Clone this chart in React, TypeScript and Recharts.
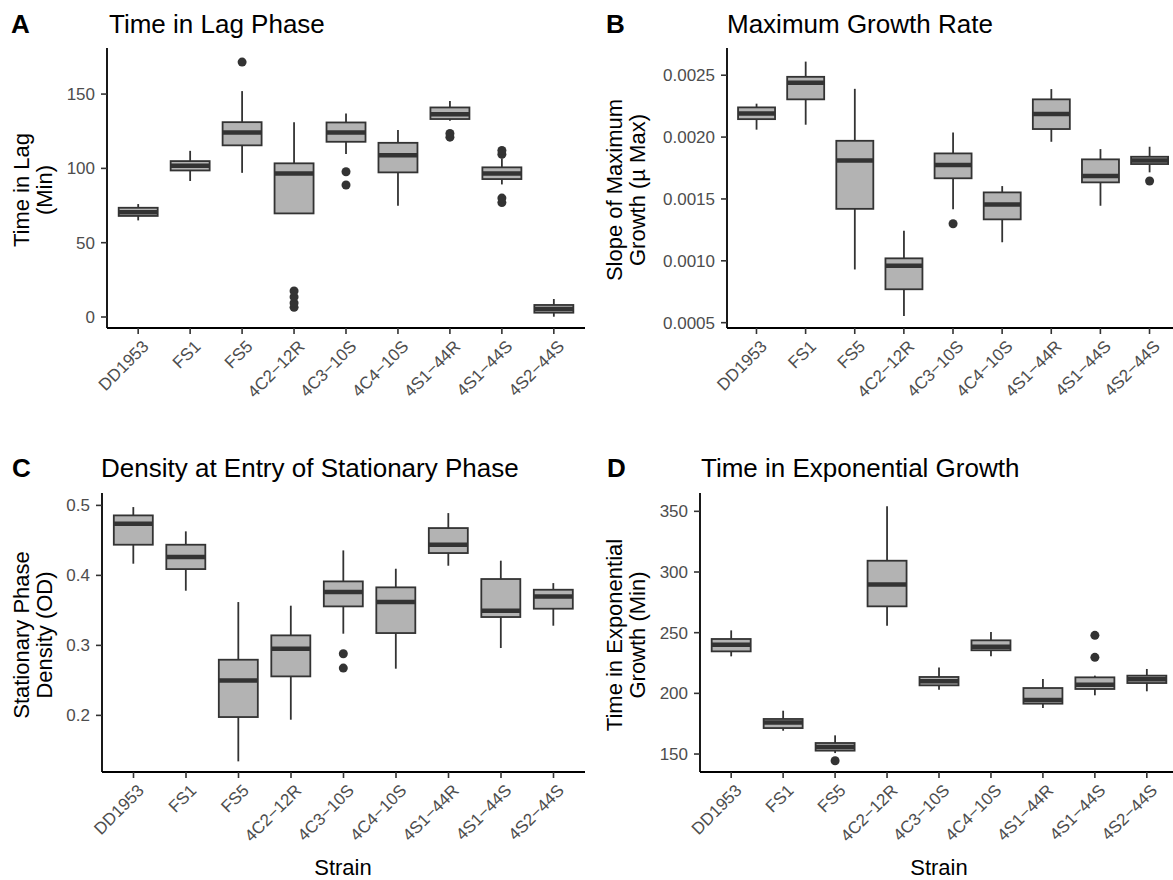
import React from 'react';
import { ComposedChart, Bar, XAxis, YAxis } from 'recharts';

const strains = ['DD1953', 'FS1', 'FS5', '4C2−12R', '4C3−10S', '4C4−10S', '4S1−44R', '4S1−44S', '4S2−44S'];

// [lower whisker, q1, median, q3, upper whisker]
const lagStats = [
  [65, 68, 70.5, 73.5, 76],
  [91.5, 98.6, 101.8, 104.9, 111.8],
  [97, 115.5, 124.2, 131.1, 152],
  [69.7, 69.7, 96.6, 103.4, 131],
  [109.6, 117.9, 124.2, 130.9, 137],
  [74.9, 97.3, 108.9, 117.2, 125.8],
  [132, 133.2, 136.5, 141, 145.3],
  [89.2, 92.8, 96.6, 100.7, 106.7],
  [0.2, 2.9, 5.4, 8.1, 12.1],
];
const lagOutliers = [[], [], [171.5], [6.5, 9.5, 13.5, 17.5], [97.7, 88.8], [], [121, 123.5], [109.5, 112, 77, 80], []];
const lagTicks = [0, 50, 100, 150];

const rateStats = [
  [0.00206, 0.002145, 0.00219, 0.00224, 0.00227],
  [0.0021, 0.002305, 0.00244, 0.002487, 0.00261],
  [0.00093, 0.00142, 0.00181, 0.00197, 0.00239],
  [0.000554, 0.00077, 0.00096, 0.00102, 0.001243],
  [0.001416, 0.001667, 0.001774, 0.001868, 0.002038],
  [0.00115, 0.001335, 0.001456, 0.001553, 0.001604],
  [0.001962, 0.002065, 0.002186, 0.002305, 0.002388],
  [0.001445, 0.001634, 0.001685, 0.00182, 0.001903],
  [0.001715, 0.001782, 0.00181, 0.001841, 0.001922],
];
const rateOutliers = [[], [], [], [], [0.0013], [], [], [], [0.001645]];
const rateTicks = [0.0005, 0.001, 0.0015, 0.002, 0.0025];

const densityStats = [
  [0.4167, 0.4438, 0.4738, 0.4857, 0.4976],
  [0.3781, 0.409, 0.4262, 0.4438, 0.4629],
  [0.1343, 0.1976, 0.25, 0.2795, 0.3619],
  [0.1938, 0.2557, 0.2952, 0.3143, 0.3567],
  [0.3167, 0.3557, 0.3762, 0.3914, 0.4357],
  [0.2667, 0.3176, 0.3619, 0.3829, 0.4095],
  [0.4138, 0.4319, 0.4438, 0.4676, 0.489],
  [0.2962, 0.3405, 0.3495, 0.3948, 0.421],
  [0.3281, 0.3524, 0.37, 0.3795, 0.389],
];
const densityOutliers = [[], [], [], [], [0.2881, 0.2676], [], [], [], []];
const densityTicks = [0.2, 0.3, 0.4, 0.5];

const expStats = [
  [230.5, 234.6, 240, 244.8, 251.9],
  [169.2, 171.4, 176, 178.9, 185.7],
  [150.8, 152.8, 155.8, 159.1, 165.4],
  [255.8, 271.7, 289.6, 309.3, 354.1],
  [203, 206.6, 209.9, 213.5, 221.4],
  [230.5, 235.5, 238.5, 243.7, 250.6],
  [187.9, 191.5, 194.5, 204.4, 211.8],
  [198.4, 203.6, 207, 213.2, 214.6],
  [201.7, 208.5, 211.6, 214.6, 220.1],
];
const expOutliers = [[], [], [144.5], [], [], [], [], [229.7, 247.8], []];
const expTicks = [150, 200, 250, 300, 350];

const FONT = '"Liberation Sans", Arial, Helvetica, sans-serif';
const DARK = '#333333';

const buildRows = (stats: number[][], outliers: number[][]) =>
  strains.map((s, i) => ({ strain: s, range: [stats[i][0], stats[i][4]], stats: stats[i], out: outliers[i] }));

// box drawn inside the whisker-range bar; values mapped with the bar's own pixel scale
const BoxShape = (props: any) => {
  const { x, y, width, height, payload } = props;
  const [lo, q1, med, q3, hi] = payload.stats;
  const top = height >= 0 ? y : y + height;
  const h = Math.abs(height);
  const k = h / (hi - lo);
  const py = (v: number) => top + (hi - v) * k;
  const cx = x + width / 2;
  return (
    <g>
      {payload.out.map((v: number, i: number) => (
        <circle key={i} cx={cx} cy={py(v)} r={4.5} fill={DARK} />
      ))}
      <line x1={cx} x2={cx} y1={py(hi)} y2={py(lo)} stroke={DARK} strokeWidth={1.8} />
      <rect x={x} y={py(q3)} width={width} height={py(q1) - py(q3)} fill="#b3b3b3" stroke={DARK} strokeWidth={1.8} />
      <line x1={x} x2={x + width} y1={py(med)} y2={py(med)} stroke={DARK} strokeWidth={4.5} />
    </g>
  );
};

const XTick = (props: any) => {
  const { x, y, payload } = props;
  return (
    <g transform={`translate(${x + 3},${y + 3})`}>
      <text x={0} y={0} dy="0.71em" textAnchor="end" transform="rotate(-45)" fill="#4d4d4d" fontSize={17} fontFamily={FONT}>
        {payload.value}
      </text>
    </g>
  );
};

interface PanelProps {
  rows: any[];
  left: number;
  top: number;
  plotW: number;
  plotH: number;
  domain: number[];
  ticks: number[];
  fmt: (v: number) => string;
}

const Panel = ({ rows, left, top, plotW, plotH, domain, ticks, fmt }: PanelProps) => {
  const yW = 90;
  const mTop = 12;
  const xH = 100;
  const pad = (0.1 * plotW) / 9.2;
  return (
    <div style={{ position: 'absolute', left: left - yW, top: top - mTop }}>
      <ComposedChart
        width={yW + plotW}
        height={mTop + plotH + xH}
        data={rows}
        margin={{ top: mTop, right: 0, left: 0, bottom: 0 }}
        barCategoryGap="12.5%"
      >
        <XAxis
          dataKey="strain"
          height={xH}
          interval={0}
          padding={{ left: pad, right: pad }}
          tick={<XTick />}
          tickSize={6}
          tickMargin={2}
          axisLine={{ stroke: '#000', strokeWidth: 1.8 }}
          tickLine={{ stroke: DARK, strokeWidth: 1.6 }}
        />
        <YAxis
          type="number"
          width={yW}
          domain={domain}
          allowDataOverflow
          ticks={ticks}
          tickFormatter={fmt}
          tickSize={6}
          tickMargin={6}
          tick={{ fill: '#4d4d4d', fontSize: 17, fontFamily: FONT }}
          axisLine={{ stroke: '#000', strokeWidth: 1.8 }}
          tickLine={{ stroke: DARK, strokeWidth: 1.6 }}
        />
        <Bar dataKey="range" shape={<BoxShape />} isAnimationActive={false} />
      </ComposedChart>
    </div>
  );
};

const YTitle = ({ x, y, lines }: { x: number; y: number; lines: string[] }) => (
  <g>
    {lines.map((t, i) => (
      <text key={i} transform={`translate(${x + i * 23},${y}) rotate(-90)`} textAnchor="middle" fontSize={22} fill="#000" fontFamily={FONT}>
        {t}
      </text>
    ))}
  </g>
);

export default function App() {
  return (
    <div style={{ position: 'absolute', left: 0, top: 0, width: 1173, height: 880, overflow: 'hidden', background: '#fff' }}>
      <svg width={1173} height={880} style={{ position: 'absolute', left: 0, top: 0 }}>
        <g fontFamily={FONT} fontSize={26} fill="#000">
          <text x={11} y={33} fontWeight="bold">A</text>
          <text x={109} y={33}>Time in Lag Phase</text>
          <text x={606} y={33} fontWeight="bold">B</text>
          <text x={727} y={33}>Maximum Growth Rate</text>
          <text x={12} y={477} fontWeight="bold">C</text>
          <text x={101} y={477}>Density at Entry of Stationary Phase</text>
          <text x={607} y={477} fontWeight="bold">D</text>
          <text x={701} y={477}>Time in Exponential Growth</text>
        </g>
        <YTitle x={29} y={190} lines={['Time in Lag', '(Min)']} />
        <YTitle x={622} y={190} lines={['Slope of Maximum', 'Growth (µ Max)']} />
        <YTitle x={29} y={635} lines={['Stationary Phase', 'Density (OD)']} />
        <YTitle x={622} y={635} lines={['Time in Exponential', 'Growth (Min)']} />
        <text x={343} y={875} textAnchor="middle" fontSize={22} fontFamily={FONT} fill="#000">Strain</text>
        <text x={939} y={875} textAnchor="middle" fontSize={22} fontFamily={FONT} fill="#000">Strain</text>
      </svg>
      <Panel rows={buildRows(lagStats, lagOutliers)} left={107} top={48} plotW={478} plotH={280} domain={[-7.4, 181]} ticks={lagTicks} fmt={(v) => String(v)} />
      <Panel rows={buildRows(rateStats, rateOutliers)} left={727} top={48} plotW={452} plotH={280} domain={[0.000457, 0.00272]} ticks={rateTicks} fmt={(v) => v.toFixed(4)} />
      <Panel rows={buildRows(densityStats, densityOutliers)} left={102} top={493} plotW={483} plotH={279} domain={[0.1191, 0.5177]} ticks={densityTicks} fmt={(v) => v.toFixed(1)} />
      <Panel rows={buildRows(expStats, expOutliers)} left={700} top={493} plotW={478} plotH={279} domain={[135.2, 365.1]} ticks={expTicks} fmt={(v) => String(v)} />
    </div>
  );
}
